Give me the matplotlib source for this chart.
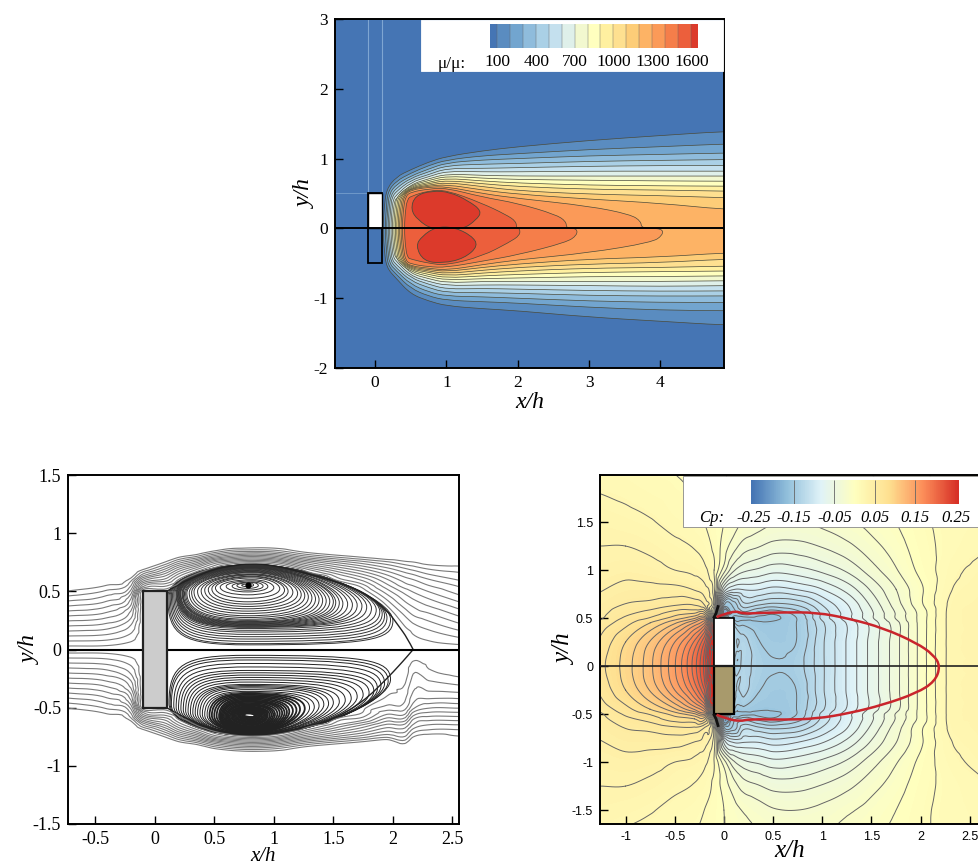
import numpy as np
import matplotlib
matplotlib.use("Agg")
import matplotlib.pyplot as plt
import matplotlib.tri as mtri
from matplotlib.colors import LinearSegmentedColormap, ListedColormap
from matplotlib.patches import Rectangle, PathPatch
from matplotlib.path import Path

W, H = 979, 864

# ---- top panel: mu_t/mu contour outlines ----
mu_colors = ["#4575b4", "#5a8cc0", "#72a5cf", "#8fbcdc", "#aad0e6", "#c4e0ee", "#dff0ea", "#f2f8cf",
             "#ffffbf", "#fff0a0", "#fee090", "#fdcd78", "#fdb365", "#fb9a58", "#f57e4a", "#ec5f3c", "#dc3a2b"]
mu_bar_edges = [43, 100, 200, 300, 400, 500, 600, 700, 800, 900, 1000, 1100, 1200, 1300, 1400, 1500, 1600, 1657]
mu_bar_ticks = [100, 400, 700, 1000, 1300, 1600]

mu_x = [0.3, 0.5, 0.75, 1.0, 1.5, 2.0, 3.0, 4.0, 4.9]
mu_nose_x = [.13, .16, .18, .20, .22, .24, .26, .28, .30, .32, .34, .36, .38, .40, .43]
mu_shoulder_x = [.16, .18, .20, .22, .24, .26, .28, .31, .33, .35, .37, .39, .41, .43, .46]
mu_shoulder_y = [.56, .53, .50, .47, .45, .42, .40, .47, .47, .47, .47, .47, .47, .46, .42]
n = np.nan
mu_upper = [
    [.74, .84, .95, 1.03, 1.11, 1.17, 1.26, 1.33, 1.39],
    [.68, .79, .90, .98, 1.04, 1.07, 1.13, 1.17, 1.21],
    [.63, .75, .85, .94, .98, 1.00, 1.04, 1.06, 1.08],
    [.58, .72, .81, .90, .92, .93, .96, .975, .986],
    [.53, .69, .77, .86, .86, .87, .89, .90, .90],
    [.48, .66, .74, .82, .81, .81, .82, .82, .82],
    [.43, .63, .71, .78, .76, .75, .75, .75, .75],
    [n, .615, .685, .75, .72, .70, .69, .68, .676],
    [n, .60, .66, .72, .68, .65, .62, .61, .605],
    [n, .585, .64, .69, .64, .60, .56, .55, .533],
    [n, .575, .62, .66, .60, .54, .49, .47, .438],
    [n, .565, .605, .63, .55, .49, .42, .36, .27],
    [n, .55, .59, .60, .50, .43, .32, n, n],
    [n, .52, .565, .58, .45, .36, n, n, n],
    [n, .46, .54, .55, .36, n, n, n, n],
]
mu_lower = [
    [-.72, -.94, -1.04, -1.11, -1.15, -1.18, -1.27, -1.33, -1.386],
    [-.66, -.86, -.97, -1.03, -1.05, -1.07, -1.13, -1.17, -1.18],
    [-.61, -.80, -.91, -.97, -.98, -1.00, -1.04, -1.06, -1.06],
    [-.57, -.75, -.85, -.92, -.92, -.93, -.96, -.97, -.967],
    [-.52, -.71, -.80, -.87, -.86, -.87, -.89, -.90, -.895],
    [-.47, -.68, -.76, -.82, -.81, -.81, -.82, -.83, -.82],
    [-.42, -.65, -.72, -.78, -.76, -.76, -.76, -.76, -.75],
    [n, -.62, -.69, -.74, -.72, -.71, -.69, -.69, -.68],
    [n, -.60, -.66, -.71, -.68, -.66, -.63, -.62, -.61],
    [n, -.585, -.63, -.68, -.64, -.61, -.57, -.56, -.54],
    [n, -.57, -.61, -.65, -.60, -.56, -.51, -.49, -.44],
    [n, -.555, -.59, -.62, -.56, -.51, -.44, -.41, -.35],
    [n, -.54, -.57, -.60, -.52, -.45, -.35, n, n],
    [n, -.51, -.55, -.56, -.47, -.38, n, n, n],
    [n, -.44, -.50, -.53, -.40, n, n, n, n],
]
mu_tail_up = {12: 3.7, 13: 2.65, 14: 1.95}
mu_tail_low = {12: 4.0, 13: 2.8, 14: 2.0}
heart_up_x = [.81, .6, .5, .56, .8, 1.05, 1.3, 1.5, 1.42, 1.22]
heart_up_y = [-.02, .12, .27, .47, .54, .52, .4, .25, .12, -.02]
heart_low_x = [.85, .66, .57, .68, .95, 1.25, 1.45, 1.35, 1.1]
heart_low_y = [.02, -.11, -.25, -.47, -.5, -.43, -.25, -.1, .02]

# ---- bottom left: stream function tables for the lines outside the bubbles ----
psi_x = [-.73, -.4, -.2, -.1, .1, .2, .35, .5, .65, .8, 1.0, 1.25, 1.5, 1.75, 1.95, 2.1, 2.17, 2.3, 2.55]
psi_y = [0, .05, .1, .2, .3, .4, .5, .55, .6, .65, .7, .75, .8, .85, .9, 1.0, 1.5]
psi_upper = [
    [0, .05, .1, .2, .3, .4, .5, .55, .6, .65, .7, .75, .8, .85, .9, 1, 1.5],
    [0, .045, .09, .18, .27, .36, .45, .5, .55, .6, .65, .7, .75, .8, .85, .95, 1.45],
    [0, .02, .05, .11, .18, .26, .36, .42, .48, .55, .6, .65, .7, .75, .8, .9, 1.4],
    [0, 0, 0, 0, 0, 0, 0, .14, .28, .42, .53, .6, .66, .72, .78, .88, 1.38],
    [0, 0, 0, 0, 0, 0, 0, .08, .18, .27, .38, .49, .56, .62, .68, .78, 1.3],
    [0, -.02, -.05, -.1, -.15, -.2, -.1, 0, .07, .16, .27, .4, .52, .6, .66, .76, 1.28],
    [0, -.02, -.08, -.18, -.4, -.45, -.35, -.2, -.08, .03, .15, .3, .46, .58, .65, .75, 1.27],
    [0, -.02, -.09, -.2, -.55, -.62, -.6, -.5, -.3, -.13, .02, .15, .35, .51, .62, .74, 1.25],
    [0, -.02, -.1, -.2, -.65, -.75, -.82, -.78, -.62, -.35, -.1, .08, .28, .45, .58, .72, 1.23],
    [0, -.02, -.1, -.2, -.7, -.82, -.93, -1, -.93, -.65, -.18, .05, .25, .44, .56, .7, 1.22],
    [0, -.02, -.1, -.2, -.68, -.78, -.85, -.85, -.75, -.45, -.1, .08, .28, .45, .56, .7, 1.22],
    [0, -.02, -.09, -.2, -.55, -.62, -.58, -.45, -.25, -.05, .08, .23, .4, .53, .6, .72, 1.23],
    [0, -.02, -.08, -.2, -.4, -.42, -.28, -.12, .02, .1, .21, .33, .47, .58, .64, .76, 1.25],
    [0, -.02, -.07, -.15, -.22, -.14, 0, .06, .13, .21, .3, .4, .52, .6, .67, .78, 1.27],
    [0, -.015, -.04, -.07, -.02, .05, .14, .19, .24, .3, .37, .45, .56, .63, .69, .8, 1.29],
    [0, -.01, -.01, .03, .08, .15, .22, .27, .31, .36, .42, .49, .57, .64, .7, .81, 1.3],
    [0, .005, .02, .06, .12, .18, .25, .29, .33, .38, .44, .5, .58, .65, .71, .82, 1.31],
    [0, .02, .04, .09, .15, .22, .29, .33, .37, .42, .47, .53, .6, .66, .72, .83, 1.32],
    [0, .035, .07, .14, .21, .28, .35, .38, .42, .45, .49, .53, .61, .67, .73, .84, 1.33],
]
psi_lower = psi_upper[:5] + [
    [0, -.02, -.05, -.1, -.15, -.2, -.1, 0, .07, .16, .27, .4, .52, .6, .66, .76, 1.28],
    [0, -.02, -.06, -.15, -.3, -.42, -.4, -.25, -.06, .03, .15, .3, .46, .58, .65, .75, 1.27],
    [0, -.02, -.07, -.18, -.4, -.6, -.68, -.66, -.4, -.15, .02, .15, .35, .5, .62, .74, 1.25],
    [0, -.02, -.08, -.2, -.45, -.7, -.85, -.9, -.8, -.4, -.08, .08, .28, .45, .58, .72, 1.23],
    [0, -.02, -.08, -.2, -.48, -.72, -.93, -1, -.93, -.55, -.15, .05, .25, .43, .56, .7, 1.22],
    [0, -.02, -.08, -.2, -.45, -.7, -.88, -.93, -.8, -.4, -.08, .08, .28, .45, .56, .7, 1.22],
    [0, -.02, -.08, -.18, -.38, -.58, -.66, -.6, -.3, -.05, .08, .23, .4, .53, .6, .72, 1.23],
    [0, -.02, -.07, -.15, -.3, -.42, -.38, -.12, .02, .1, .21, .33, .47, .58, .64, .76, 1.25],
    [0, -.02, -.06, -.13, -.2, -.12, .01, .04, .1, .21, .3, .4, .52, .6, .67, .78, 1.27],
    [0, -.015, -.04, -.06, 0, .03, .09, .15, .22, .3, .37, .45, .56, .63, .69, .8, 1.29],
    [0, -.01, -.005, 0, .03, .06, .1, .15, .22, .3, .36, .42, .49, .57, .64, .7, .81, 1.3][:17],
    [0, .005, .03, .07, .1, .13, .19, .26, .33, .38, .44, .5, .58, .65, .71, .82, 1.31],
    [0, .005, .015, .04, .09, .14, .24, .3, .36, .42, .47, .53, .6, .66, .72, .83, 1.32],
    [0, .002, .005, .015, .07, .14, .24, .3, .36, .42, .47, .51, .6, .67, .73, .84, 1.33],
]

# closed streamlines of the two bubbles: extents of each loop, outer to inner
up_left = [.11, .12, .13, .14, .15, .16, .17, .18, .185, .19, .195, .2, .205, .21, .215, .22, .23, .235,
           .24, .25, .26, .27, .29, .31, .33, .36, .39, .42, .45, .48, .51, .55, .6, .65, .69, .73]
up_right = [2.0, 1.98, 1.95, 1.93, 1.91, 1.89, 1.86, 1.82, 1.78, 1.74, 1.7, 1.66, 1.62, 1.58, 1.55, 1.52, 1.5, 1.47,
            1.44, 1.41, 1.38, 1.35, 1.32, 1.29, 1.26, 1.23, 1.2, 1.16, 1.12, 1.09, 1.05, 1.0, .95, .91, .87, .83]
up_top = [.73, .73, .73, .73, .725, .725, .72, .72, .72, .715, .715, .71, .71, .705, .705, .7, .7, .695,
          .69, .685, .68, .675, .67, .665, .66, .65, .645, .64, .63, .625, .615, .6, .59, .58, .575, .565]
up_bottom = [.04, .05, .07, .09, .11, .13, .15, .165, .18, .19, .195, .2, .205, .21, .215, .22, .225, .23,
             .235, .24, .25, .26, .275, .29, .31, .33, .35, .37, .39, .41, .44, .47, .495, .51, .525, .54]
up_core_x = [.78]
up_core_y = [.555]
low_left = [.12, .13, .14, .16, .18, .2, .22, .24, .26, .28, .3, .32, .34, .36, .38, .4, .42, .44, .46, .48, .5, .52,
            .54, .55, .56, .57, .58, .59, .6, .61, .62, .63, .64, .65, .66, .67, .68, .69, .7, .71, .72, .73, .74, .75]
low_right = [1.98, 1.96, 1.93, 1.9, 1.87, 1.84, 1.8, 1.75, 1.7, 1.65, 1.6, 1.55, 1.5, 1.46, 1.42, 1.38, 1.34, 1.3, 1.26, 1.22, 1.19, 1.16,
             1.13, 1.11, 1.09, 1.07, 1.05, 1.03, 1.01, .995, .98, .965, .95, .94, .93, .92, .91, .9, .89, .88, .87, .86, .85, .84]
low_near = [.05, .07, .09, .12, .15, .18, .2, .22, .24, .26, .28, .3, .31, .32, .33, .345, .36, .37, .38, .39, .4, .41,
            .42, .43, .44, .445, .45, .46, .47, .475, .48, .49, .495, .5, .505, .51, .515, .52, .525, .53, .535, .54, .545, .55]
low_far = [.74, .74, .74, .735, .735, .73, .73, .73, .73, .73, .73, .725, .725, .725, .72, .72, .72, .715, .715, .71, .71, .705,
           .705, .7, .695, .69, .685, .68, .675, .67, .665, .66, .65, .645, .64, .63, .625, .62, .61, .605, .6, .59, .585, .58]
sep_up_x = [.1, .2, .35, .5, .65, .8, 1.0, 1.25, 1.5, 1.75, 1.95, 2.05, 2.12, 2.17]
sep_up_y = [.5, .56, .63, .69, .72, .74, .725, .66, .59, .5, .34, .2, .1, 0]
sep_low_x = [.1, .2, .35, .5, .65, .8, 1.0, 1.25, 1.5, 1.75, 1.95, 2.05, 2.12, 2.17]
sep_low_y = [-.5, -.56, -.63, -.69, -.72, -.745, -.73, -.68, -.6, -.45, -.25, -.14, -.06, 0]

# ---- bottom right: Cp table for y >= 0 (one row per y), lower half mirrored ----
cp_x = [-1.26, -1, -.75, -.5, -.3, -.2, -.1, 0, .1, .2, .35, .5, .75, 1, 1.25, 1.5, 1.75, 2, 2.3, 2.6]
cp_y = [0, .25, .45, .5, .55, .65, .8, 1, 1.25, 1.5, 2]
cp_rows = [
    [.07, .09, .115, .15, .19, .22, .26, .06, -.13, -.13, -.14, -.145, -.14, -.115, -.09, -.065, -.04, -.01, .022, .027],
    [.065, .085, .108, .14, .175, .205, .25, .06, -.12, -.13, -.145, -.15, -.145, -.115, -.09, -.065, -.04, -.01, .022, .027],
    [.055, .07, .085, .105, .13, .15, .2, .03, -.14, -.15, -.155, -.155, -.145, -.115, -.09, -.065, -.04, -.01, .022, .027],
    [.05, .065, .075, .09, .105, .12, .05, -.1, -.16, -.16, -.16, -.16, -.145, -.11, -.085, -.06, -.035, -.01, .022, .027],
    [.048, .06, .068, .08, .085, .09, 0, -.18, -.15, -.14, -.15, -.155, -.14, -.11, -.085, -.06, -.035, -.01, .022, .027],
    [.045, .052, .055, .06, .06, .05, .015, -.14, -.14, -.115, -.12, -.125, -.12, -.1, -.08, -.055, -.03, -.005, .021, .027],
    [.04, .045, .045, .045, .04, .035, .012, -.07, -.09, -.09, -.09, -.095, -.09, -.08, -.065, -.045, -.025, -.005, .018, .025],
    [.035, .037, .035, .03, .027, .022, .008, -.02, -.045, -.055, -.06, -.065, -.062, -.055, -.045, -.03, -.015, 0, .015, .022],
    [.03, .03, .027, .022, .018, .014, .005, -.008, -.02, -.03, -.035, -.04, -.04, -.035, -.028, -.018, -.008, .003, .012, .017],
    [.025, .023, .02, .015, .012, .008, .003, -.003, -.01, -.015, -.02, -.024, -.025, -.022, -.016, -.01, -.003, .005, .012, .015],
    [.015, .013, .01, .008, .005, .003, .001, -.002, -.005, -.007, -.009, -.01, -.01, -.008, -.005, -.003, .002, .006, .012, .015],
]
cp_bar_ticks = [-.25, -.15, -.05, .05, .15, .25]
cp_bar_labels = ["-0.25", "-0.15", "-0.05", "0.05", "0.15", "0.25"]
bubble_x = [-.075, .095, .197, .33, .60, .94, 1.28, 1.62, 1.96, 2.13, 2.20, 2.146, 1.96, 1.62, 1.28, .94, .60, .264, .163, .027, -.075]
bubble_y = [.51, .58, .545, .552, .559, .559, .493, .396, .24, .118, 0, -.16, -.281, -.403, -.49, -.549, -.559, -.552, -.576, -.549, -.507]
corner_x = [-.1, -.08, -.06]
corner_y = [.51, .55, .62]

plt.rcParams["font.family"] = ["Liberation Serif", "DejaVu Serif"]
plt.rcParams["axes.linewidth"] = 1.4
plt.rcParams["axes.unicode_minus"] = False


def px_axes(fig, left, top, right, bottom):
    return fig.add_axes([left / W, 1 - bottom / H, (right - left) / W, (bottom - top) / H])


def add_text_box(ax, left, top, right, bottom, edge):
    # box given in figure pixels
    ax.add_patch(Rectangle((left / W, 1 - bottom / H), (right - left) / W, (bottom - top) / H,
                           transform=ax.figure.transFigure, fc="white", ec=edge, lw=0.6, zorder=10))


def smooth_tri(xs, ys, table):
    # let matplotlib's own refiner round off the corners of the read table
    gx, gy = np.meshgrid(xs, ys)
    tri = mtri.Triangulation(gx.ravel(), gy.ravel())
    z = np.asarray(table).ravel()
    interp = mtri.CubicTriInterpolator(tri, z, kind="geom")
    return mtri.UniformTriRefiner(tri).refine_field(z, triinterpolator=interp, subdiv=3)


def round_path(xs, ys, closed=True):
    # read points become bezier control points, so the drawn outline has no corners
    pts = list(zip(xs, ys))
    if closed:
        start = ((pts[-1][0] + pts[0][0]) / 2, (pts[-1][1] + pts[0][1]) / 2)
        verts, codes = [start], [Path.MOVETO]
        for i, p in enumerate(pts):
            q = pts[(i + 1) % len(pts)]
            verts += [p, ((p[0] + q[0]) / 2, (p[1] + q[1]) / 2)]
            codes += [Path.CURVE3, Path.CURVE3]
    else:
        verts, codes = [pts[0]], [Path.MOVETO]
        for i in range(1, len(pts) - 1):
            q = pts[i + 1]
            end = q if i == len(pts) - 2 else ((pts[i][0] + q[0]) / 2, (pts[i][1] + q[1]) / 2)
            verts += [pts[i], end]
            codes += [Path.CURVE3, Path.CURVE3]
    return Path(verts, codes)


def loop_path(left, right, top, bottom, top_x, bottom_x, frac, sign=1):
    # one closed bubble streamline as four bezier arcs; frac 0 = D-shaped outer, 1 = round core
    h = top - bottom
    y_l = bottom + (.6 - .1 * frac) * h
    y_r = bottom + (.3 + .2 * frac) * h
    kt = .4 + .15 * frac
    kb = .82 - .27 * frac
    verts = [(left, y_l),
             (left, y_l + .55 * (top - y_l)), (top_x - .55 * (top_x - left), top), (top_x, top),
             (top_x + kt * (right - top_x), top), (right, y_r + kt * (top - y_r)), (right, y_r),
             (right, y_r - kb * (y_r - bottom)), (bottom_x + kb * (right - bottom_x), bottom), (bottom_x, bottom),
             (bottom_x - kb * (bottom_x - left), bottom), (left, y_l - kb * (y_l - bottom)), (left, y_l)]
    codes = [Path.MOVETO] + [Path.CURVE4] * 12
    return Path([(x, sign * y) for x, y in verts], codes)


fig = plt.figure(figsize=(W / 100, H / 100), dpi=100)

# ---- top panel ----
ax = px_axes(fig, 335, 19, 724, 368)
ax.set_facecolor(mu_colors[0])
ax.set_xlim(-0.56, 4.89)
ax.set_ylim(-2, 3)
for k in range(len(mu_nose_x)):
    up = [(x, y) for x, y in zip(mu_x, mu_upper[k]) if x > mu_shoulder_x[k] and not np.isnan(y)]
    low = [(x, y) for x, y in zip(mu_x, mu_lower[k]) if x > mu_shoulder_x[k] and not np.isnan(y)]
    pts = [(mu_nose_x[k] - .02, 0), (mu_nose_x[k], .3), (mu_shoulder_x[k], mu_shoulder_y[k])] + up
    if k in mu_tail_up:
        # blunt end on the centre line
        pts += [(mu_tail_up[k] - .12, .2), (mu_tail_up[k] + .03, .1), (mu_tail_up[k] + .03, 0),
                (mu_tail_low[k] + .03, 0), (mu_tail_low[k] + .03, -.1), (mu_tail_low[k] - .12, -.2)]
    else:
        # open levels leave the frame, carry them past it
        pts += [(5.3, up[-1][1]), (5.3, low[-1][1])]
    pts += low[::-1] + [(mu_shoulder_x[k], -mu_shoulder_y[k]), (mu_nose_x[k], -.3)]
    px, py = zip(*pts)
    ax.add_patch(PathPatch(round_path(px, py), fc=mu_colors[k + 1], ec="#4a4a3a", lw=0.5))
ax.add_patch(PathPatch(round_path(heart_up_x, heart_up_y), fc=mu_colors[16], ec="#4a4a3a", lw=0.6))
ax.add_patch(PathPatch(round_path(heart_low_x, heart_low_y), fc=mu_colors[16], ec="#4a4a3a", lw=0.6))
ax.vlines([-.1, .1], 0.5, 3, color="#7fa6d2", lw=0.8)
ax.hlines(0.5, -.56, .1, color="#7fa6d2", lw=0.5)
ax.add_patch(Rectangle((-.1, -.5), .2, 1, fc=mu_colors[0], ec="black", lw=1.3, zorder=4))
ax.add_patch(Rectangle((-.1, 0), .2, .5, fc="white", ec="black", lw=1.0, zorder=5))
ax.axhline(0, color="black", lw=1.4, zorder=6)
ax.set_xticks([0, 1, 2, 3, 4])
ax.set_yticks([-2, -1, 0, 1, 2, 3])
ax.tick_params(direction="in", length=6, width=1, labelsize=12.5, pad=5)
ax.set_xlabel("x/h", fontsize=17, style="italic", labelpad=1)
ax.set_ylabel("y/h", fontsize=17, style="italic", labelpad=-2)
add_text_box(ax, 421, 20, 723, 71, "white")

cb = px_axes(fig, 490, 24, 698, 48)
cb.pcolormesh(mu_bar_edges, [0, 1], np.arange(17).reshape(1, -1), cmap=ListedColormap(mu_colors),
              vmin=-.5, vmax=16.5)
cb.vlines(mu_bar_edges[1:-1], 0, 1, color="#666666", lw=0.3)
cb.axis("off")
cb.set_zorder(11)
for v in mu_bar_ticks:
    fig.text((497.7 + (v - 100) * 0.1293) / W, 1 - 62 / H, str(v), ha="center", va="center", fontsize=12.5, zorder=12)
fig.text(452 / W, 1 - 64 / H, "\u03bc/\u03bc:", ha="center", va="center", fontsize=12.5, zorder=12)

# ---- bottom left: streamlines ----
ax = px_axes(fig, 68, 475, 459, 824)
ax.set_xlim(-.728, 2.555)
ax.set_ylim(-1.5, 1.5)
pos_levels = np.arange(.03, .52, .043)
for table, sign in [(psi_upper, 1), (psi_lower, -1)]:
    tri_f, z_f = smooth_tri(psi_x, sign * np.array(psi_y), np.array(table).T)
    ax.tricontour(tri_f, z_f, levels=pos_levels, colors="#7a7a7a", linewidths=0.8, linestyles="solid")
for i, loop in enumerate(zip(up_left, up_right, up_top, up_bottom)):
    ax.add_patch(PathPatch(loop_path(*loop, .82, .78, i / (len(up_left) - 1)), fc="none", ec="#333333", lw=0.7))
for i, loop in enumerate(zip(low_left, low_right, low_far, low_near)):
    lw = 0.7 if i < 18 else 1.3
    ax.add_patch(PathPatch(loop_path(*loop, .82, .78, i / (len(low_left) - 1), sign=-1), fc="none", ec="#222222", lw=lw))
ax.plot(up_core_x, up_core_y, "o", color="black", ms=3.5)
ax.add_patch(PathPatch(round_path(sep_up_x, sep_up_y, closed=False), fc="none", ec="#222222", lw=1.0))
ax.add_patch(PathPatch(round_path(sep_low_x, sep_low_y, closed=False), fc="none", ec="#222222", lw=1.0))
ax.add_patch(Rectangle((-.1, -.5), .2, 1, fc="#cccccc", ec="#222222", lw=1.6, zorder=5))
ax.axhline(0, color="black", lw=1.5, zorder=4)
ax.set_xticks([-.5, 0, .5, 1, 1.5, 2, 2.5])
ax.set_xticklabels(["-0.5", "0", "0.5", "1", "1.5", "2", "2.5"])
ax.set_yticks([-1.5, -1, -.5, 0, .5, 1, 1.5])
ax.set_yticklabels(["-1.5", "-1", "-0.5", "0", "0.5", "1", "1.5"])
ax.tick_params(direction="in", length=6, width=1, labelsize=13, pad=5)
ax.set_xlabel("x/h", fontsize=15, style="italic", labelpad=-1)
ax.set_ylabel("y/h", fontsize=17, style="italic", labelpad=-6)

# ---- bottom right: Cp ----
ax = px_axes(fig, 600, 475, 979, 824)
ax.set_xlim(-1.26, 2.593)
ax.set_ylim(-1.645, 1.99)
cp_half = np.array(cp_rows)
cp = np.vstack([cp_half[:0:-1], cp_half])
cp_yy = np.concatenate([-np.array(cp_y[:0:-1]), cp_y])
cp_cmap = LinearSegmentedColormap.from_list("cp", ["#4575b4", "#91bfdb", "#e0f3f8", "#ffffbf", "#fee090", "#fc8d59", "#d73027"])
tri_f, z_f = smooth_tri(cp_x, cp_yy, cp)
ax.tricontourf(tri_f, z_f, levels=np.arange(-.25, .2501, .004), cmap=cp_cmap, extend="both")
ax.tricontour(tri_f, z_f, levels=np.arange(-.245, .3, .011), colors="#666666", linewidths=0.7, linestyles="solid")
ax.add_patch(Rectangle((-.1, 0), .2, .5, fc="white", ec="black", lw=1.2, zorder=5))
ax.add_patch(Rectangle((-.1, -.5), .2, .5, fc="#a89a6c", ec="black", lw=1.6, zorder=5))
ax.plot(corner_x, corner_y, color="#111111", lw=2.0, zorder=6)
ax.plot(corner_x, -np.array(corner_y), color="#111111", lw=2.0, zorder=6)
ax.axhline(0, color="#222222", lw=1.2, zorder=6)
ax.add_patch(PathPatch(round_path(bubble_x, bubble_y, closed=False), fc="none", ec="#c9252c", lw=1.8, zorder=7))
ax.spines["right"].set_visible(False)
ax.set_xticks([-1, -.5, 0, .5, 1, 1.5, 2, 2.5])
ax.set_xticklabels(["-1", "-0.5", "0", "0.5", "1", "1.5", "2", "2.5"], family="Liberation Sans")
ax.set_yticks([-1.5, -1, -.5, 0, .5, 1, 1.5])
ax.set_yticklabels(["-1.5", "-1", "-0.5", "0", "0.5", "1", "1.5"], family="Liberation Sans")
ax.tick_params(direction="in", length=6, width=1, labelsize=9, pad=5)
ax.set_xlabel("x/h", fontsize=18, style="italic", labelpad=-2)
ax.set_ylabel("y/h", fontsize=18, style="italic", labelpad=-3)
add_text_box(ax, 683, 476, 979, 527, "#888888")

cb = px_axes(fig, 751, 480, 959, 504)
bar_vals = np.linspace(-.25, .25, 100).reshape(1, -1)
cb.imshow(bar_vals, cmap=cp_cmap, aspect="auto", extent=[-.256, .258, 0, 1])
cb.vlines([-.15, -.05, .05, .15], 0, 1, color="#666666", lw=0.6)
cb.axis("off")
cb.set_zorder(11)
for v, s in zip(cp_bar_ticks, cp_bar_labels):
    fig.text((751 + (v + .256) / .514 * 208) / W, 1 - 518 / H, s, ha="center", va="center", fontsize=12,
             style="italic", zorder=12)
fig.text(712 / W, 1 - 518 / H, "Cp:", ha="center", va="center", fontsize=12, style="italic", zorder=12)

fig.savefig("out.png", dpi=100)
